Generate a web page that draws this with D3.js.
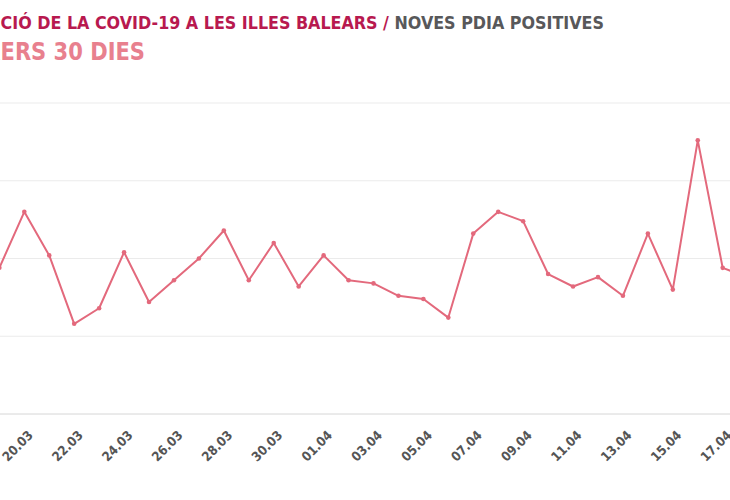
<!DOCTYPE html>
<html>
<head>
<meta charset="utf-8">
<script src="https://cdn.jsdelivr.net/npm/d3@7"></script>
<style>
  body { margin: 0; background: #fff; }
  svg { display: block; }
  .cond { font-family: "DejaVu Sans Condensed", "DejaVu Sans", sans-serif; font-stretch: condensed; font-weight: bold; }
</style>
</head>
<body>
<svg width="730" height="500"></svg>
<script>
// noves PDIA positives per dia (Illes Balears, 2020)
var dates = ["2020-03-19","2020-03-20","2020-03-21","2020-03-22","2020-03-23","2020-03-24","2020-03-25",
  "2020-03-26","2020-03-27","2020-03-28","2020-03-29","2020-03-30","2020-03-31","2020-04-01","2020-04-02",
  "2020-04-03","2020-04-04","2020-04-05","2020-04-06","2020-04-07","2020-04-08","2020-04-09","2020-04-10",
  "2020-04-11","2020-04-12","2020-04-13","2020-04-14","2020-04-15","2020-04-16","2020-04-17","2020-04-18"];
var positives = [47,65,51,29,34,52,36,43,50,59,43,55,41,51,43,42,38,37,31,58,65,62,45,41,44,38,58,40,88,47,44];

// x labels every two days
var tickDates = ["2020-03-20","2020-03-22","2020-03-24","2020-03-26","2020-03-28","2020-03-30","2020-04-01",
  "2020-04-03","2020-04-05","2020-04-07","2020-04-09","2020-04-11","2020-04-13","2020-04-15","2020-04-17"];
var yTicks = [0, 25, 50, 75, 100];

var title1a = "EVOLUCIÓ DE LA COVID-19 A LES ILLES BALEARS / ";
var title1b = "NOVES PDIA POSITIVES";
var title2 = "ELS DARRERS 30 DIES";

var parse = d3.utcParse("%Y-%m-%d");
var svg = d3.select("svg");

var data = dates.map(function(d, i){ return {date: parse(d), value: positives[i]}; });

var x = d3.scaleUtc()
    .domain([parse("2020-03-20"), parse("2020-04-17")])
    .range([24.3, 722.7]);
var y = d3.scaleLinear().domain([0, 100]).range([414, 103]);

// gridlines
svg.append("g").selectAll("line")
  .data(yTicks.slice(1))
  .enter().append("line")
    .attr("x1", 0).attr("x2", 730)
    .attr("y1", function(d){ return y(d); })
    .attr("y2", function(d){ return y(d); })
    .attr("stroke", "#ebebeb")
    .attr("stroke-width", 1);

// x axis
var xAxis = svg.append("g")
    .attr("transform", "translate(0," + y(0) + ")")
    .call(d3.axisBottom(x)
      .tickValues(tickDates.map(parse))
      .tickFormat(d3.utcFormat("%d.%m"))
      .tickSize(0));
xAxis.select(".domain").remove();
xAxis.selectAll(".tick line").remove();
xAxis.append("line")
    .attr("x1", 0).attr("x2", 730)
    .attr("stroke", "#d6d6d6");
xAxis.selectAll(".tick text")
    .attr("class", "cond")
    .attr("x", null).attr("y", null).attr("dy", null)
    .attr("transform", "translate(9,22) rotate(-45)")
    .style("text-anchor", "end")
    .style("font-size", "13px")
    .attr("fill", "#555");

// line + markers
var line = d3.line()
    .x(function(d){ return x(d.date); })
    .y(function(d){ return y(d.value); });

svg.append("path")
    .datum(data)
    .attr("fill", "none")
    .attr("stroke", "#e3697c")
    .attr("stroke-width", 2)
    .attr("stroke-linejoin", "round")
    .attr("d", line);

svg.selectAll(".dot")
    .data(data)
    .enter().append("circle")
    .attr("class", "dot")
    .attr("cx", function(d){ return x(d.date); })
    .attr("cy", function(d){ return y(d.value); })
    .attr("r", 2.3)
    .attr("fill", "#e3697c");

// titles: the picture is cropped on the left, so squeeze the text so the
// visible part (after `hidden` chars) lands between x0 and x1
function fitTitle(t, hidden, x0, x1){
  var node = t.node();
  var W = node.getComputedTextLength();
  var p = node.getSubStringLength(0, hidden);
  var s = (x1 - x0) / (W - p);
  t.attr("textLength", W * s)
   .attr("lengthAdjust", "spacingAndGlyphs")
   .attr("x", x0 - p * s);
}

var t1 = svg.append("text")
    .attr("class", "cond")
    .attr("y", 29)
    .style("font-size", "18px");
t1.append("tspan").attr("fill", "#b8194f").text(title1a);
t1.append("tspan").attr("fill", "#58585a").text(title1b);
fitTitle(t1, 5, 0.5, 604);

var t2 = svg.append("text")
    .attr("class", "cond")
    .attr("y", 60)
    .style("font-size", "25px")
    .attr("fill", "#e8808e")
    .text(title2);
fitTitle(t2, 8, 0.5, 145);
</script>
</body>
</html>
